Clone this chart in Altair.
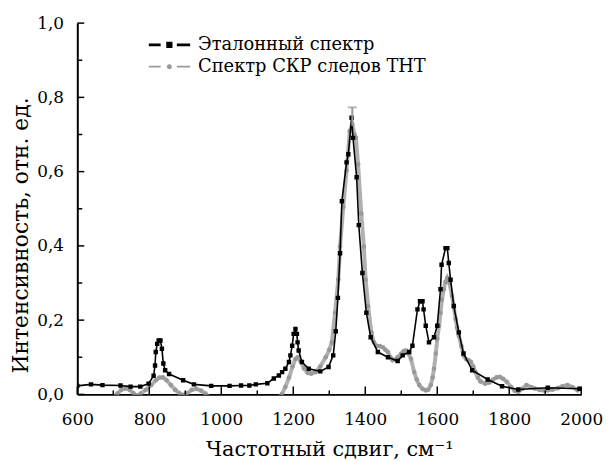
import altair as alt
import pandas as pd

# ---- data ----
ref_name = "Эталонный спектр"
tnt_name = "Спектр СКР следов ТНТ"

ref_v = [600, 638, 670, 720, 748, 775, 798, 812, 816, 818, 822, 826, 831, 835, 839, 844, 855,
         894, 924, 972, 1023, 1055, 1078, 1096, 1128, 1146, 1160, 1169, 1178, 1188, 1192, 1197,
         1201, 1206, 1210, 1212, 1215, 1224, 1243, 1275, 1298, 1311, 1318, 1324, 1330, 1335,
         1348, 1353, 1362, 1366, 1376, 1382, 1392, 1403, 1415, 1435, 1463, 1490, 1504, 1522,
         1531, 1545, 1552, 1559, 1562, 1568, 1577, 1591, 1600, 1609, 1612, 1623, 1628, 1632,
         1637, 1646, 1660, 1673, 1697, 1740, 1780, 1825, 1907, 1995]
ref_i = [0.023, 0.027, 0.025, 0.024, 0.021, 0.021, 0.029, 0.05, 0.078, 0.114, 0.136, 0.145, 0.145,
         0.123, 0.083, 0.065, 0.055,
         0.038, 0.027, 0.023, 0.023, 0.024, 0.024, 0.027, 0.03, 0.043, 0.051, 0.06, 0.069, 0.087,
         0.105, 0.131,
         0.163, 0.176, 0.163, 0.14, 0.118, 0.087, 0.069, 0.062, 0.074, 0.105, 0.17, 0.26, 0.38, 0.52,
         0.625, 0.647, 0.745, 0.691, 0.585, 0.456, 0.327, 0.22, 0.154, 0.114, 0.10, 0.09, 0.105, 0.114,
         0.131, 0.229, 0.251, 0.251, 0.229, 0.185, 0.14, 0.154, 0.185, 0.283, 0.349, 0.394, 0.394, 0.354,
         0.309, 0.238, 0.167, 0.11, 0.065, 0.04, 0.022, 0.013, 0.018, 0.015]

tnt_v = [700, 712, 722, 734, 746, 756, 766, 776, 790, 805, 818, 828, 838, 848, 860, 872, 884, 895,
         905, 918, 931, 944, 956, 970, 1000, 1050, 1100, 1150, 1168, 1178, 1188, 1198, 1206, 1212,
         1220, 1230, 1240, 1250, 1262, 1275, 1290, 1300, 1307, 1316, 1325, 1330, 1339, 1348, 1357,
         1364, 1370, 1374, 1380, 1389, 1396, 1401, 1408, 1417, 1424, 1431, 1440, 1449, 1456, 1463,
         1470, 1476, 1483, 1490, 1500, 1507, 1513, 1520, 1527, 1536, 1543, 1550, 1559, 1568, 1575,
         1582, 1587, 1591, 1596, 1600, 1605, 1609, 1613, 1618, 1623, 1628, 1634, 1641, 1646, 1651,
         1655, 1660, 1667, 1673, 1680, 1687, 1693, 1700, 1706, 1713, 1720, 1733, 1745, 1755, 1765,
         1774, 1783, 1793, 1805, 1815, 1825, 1836, 1848, 1860, 1871, 1885, 1895, 1907, 1920, 1935,
         1948, 1962, 1975, 1990]
tnt_i = [-0.01, 0.003, 0.012, 0.016, 0.012, 0.003, -0.004, 0.002, 0.012, 0.025, 0.038, 0.045, 0.046,
         0.038, 0.025, 0.012, 0.003, -0.002,
         0.003, 0.012, 0.015, 0.010, 0.002, -0.01, -0.03, -0.04, -0.04, -0.02, 0.0, 0.02, 0.045, 0.075,
         0.095, 0.10,
         0.09, 0.07, 0.058, 0.056, 0.06, 0.075, 0.10, 0.12, 0.14, 0.22, 0.309, 0.398, 0.505, 0.603, 0.709,
         0.727, 0.70, 0.691, 0.62, 0.487, 0.398, 0.309, 0.238, 0.167, 0.14, 0.131, 0.13, 0.127, 0.12, 0.114,
         0.10, 0.092, 0.094, 0.10, 0.11, 0.117, 0.118, 0.11, 0.096, 0.06, 0.04, 0.025, 0.015, 0.011, 0.013,
         0.025, 0.045, 0.069, 0.11, 0.149, 0.185, 0.22, 0.255, 0.283, 0.303, 0.314, 0.30, 0.265, 0.235, 0.203,
         0.18, 0.158, 0.13, 0.105, 0.095, 0.092, 0.088, 0.075, 0.06, 0.045, 0.035, 0.029, 0.032, 0.04, 0.046,
         0.047, 0.042, 0.034, 0.02, 0.01, 0.007, 0.015, 0.025, 0.02, 0.016, 0.012, 0.011, 0.011, 0.013, 0.017,
         0.022, 0.025, 0.02, 0.011]

err_v = [1364]
err_lo = [0.723]
err_hi = [0.773]

x_major = [600, 800, 1000, 1200, 1400, 1600, 1800, 2000]
x_minor = [700, 900, 1100, 1300, 1500, 1700, 1900]
y_major = [0.0, 0.2, 0.4, 0.6, 0.8, 1.0]
y_minor = [0.1, 0.3, 0.5, 0.7, 0.9]

assert len(ref_v) == len(ref_i)
assert len(tnt_v) == len(tnt_i)

df = pd.concat([
    pd.DataFrame({"v": ref_v, "I": ref_i, "series": ref_name}),
    pd.DataFrame({"v": tnt_v, "I": tnt_i, "series": tnt_name}),
])
df_ref = df[df.series == ref_name]
df_tnt = df[df.series == tnt_name]
df_err = pd.DataFrame({"v": err_v, "lo": err_lo, "hi": err_hi})

FONT = "DejaVu Serif"
W, H = 509, 375
BLACK = "#000000"
GREY_LINE = "#b0b0b0"
GREY_PT = "#999999"

xs = alt.Scale(domain=[600, 2000], nice=False, zero=False)
ys = alt.Scale(domain=[0, 1], nice=False)

x_enc = alt.X("v:Q", scale=xs,
              axis=alt.Axis(values=x_major, format="d", ticks=False, grid=False, domainColor="black",
                            domainWidth=2, labelFont=FONT, labelFontSize=17, labelColor="black",
                            labelPadding=17, labelFlush=False,
                            title="Частотный сдвиг, см⁻¹", titleFont=FONT, titleFontSize=21,
                            titleFontWeight="normal", titleColor="black", titlePadding=12))
y_enc = alt.Y("I:Q", scale=ys,
              axis=alt.Axis(values=y_major, ticks=False, grid=False, domainColor="black",
                            domainWidth=2, labelFont=FONT, labelFontSize=17, labelColor="black",
                            labelPadding=14, labelFlush=False,
                            labelExpr="replace(format(datum.value, '.1f'), '.', ',')",
                            title="Интенсивность, отн. ед.", titleFont=FONT, titleFontSize=22,
                            titleFontWeight="normal", titleColor="black", titlePadding=4,
                            titleY=214))

tnt_line = alt.Chart(df_tnt).mark_line(color=GREY_LINE, strokeWidth=4, clip=True).encode(
    x=x_enc, y=y_enc)
tnt_pts = alt.Chart(df_tnt).mark_circle(color=GREY_PT, size=22, opacity=1, clip=True).encode(
    x="v:Q", y="I:Q")
ref_line = alt.Chart(df_ref).mark_line(color=BLACK, strokeWidth=1.6, clip=True).encode(
    x="v:Q", y="I:Q")
ref_pts = alt.Chart(df_ref).mark_square(color=BLACK, size=20, opacity=1, clip=True).encode(
    x="v:Q", y="I:Q")

err_rule = alt.Chart(df_err).mark_rule(color=GREY_PT, strokeWidth=2).encode(
    x="v:Q", y="lo:Q", y2="hi:Q")
err_cap = alt.Chart(df_err).mark_tick(color=GREY_PT, orient="horizontal", size=9, thickness=2).encode(
    x="v:Q", y="hi:Q")

# inward tick marks
xt_major = alt.Chart(pd.DataFrame({"v": x_major})).mark_rule(color="black", strokeWidth=1.5).encode(
    x="v:Q", y=alt.value(H), y2=alt.value(H - 8))
xt_minor = alt.Chart(pd.DataFrame({"v": x_minor})).mark_rule(color="black", strokeWidth=1.5).encode(
    x="v:Q", y=alt.value(H), y2=alt.value(H - 4))
yt_major = alt.Chart(pd.DataFrame({"I": y_major})).mark_rule(color="black", strokeWidth=1.5).encode(
    y="I:Q", x=alt.value(0), x2=alt.value(7))
yt_minor = alt.Chart(pd.DataFrame({"I": y_minor})).mark_rule(color="black", strokeWidth=1.5).encode(
    y="I:Q", x=alt.value(0), x2=alt.value(5))

# legend (symbols drawn as dash-marker-dash paths)
path_ref = ("M-1,-0.07H-0.42V0.07H-1Z M-0.15,-0.15H0.15V0.15H-0.15Z M0.36,-0.07H1V0.07H0.36Z")
path_tnt = ("M-1,-0.045H-0.42V0.045H-1Z M0.12,0A0.12,0.12,0,1,1,-0.12,0A0.12,0.12,0,1,1,0.12,0Z "
            "M0.36,-0.045H1V0.045H0.36Z")
legend_layer = alt.Chart(df).mark_point(filled=True, opacity=0).encode(
    x="v:Q", y="I:Q",
    color=alt.Color("series:N",
                    scale=alt.Scale(domain=[ref_name, tnt_name], range=[BLACK, "#9a9a9a"]),
                    legend=alt.Legend(title=None, orient="none", legendX=72, legendY=11,
                                      symbolSize=1764, symbolStrokeWidth=0, symbolOpacity=1,
                                      labelFont=FONT, labelFontSize=18, labelColor="black",
                                      labelOffset=8, clipHeight=22, rowPadding=0, padding=0,
                                      labelLimit=400)),
    shape=alt.Shape("series:N",
                    scale=alt.Scale(domain=[ref_name, tnt_name], range=[path_ref, path_tnt])),
)

chart = alt.layer(
    tnt_line, tnt_pts, ref_line, ref_pts, err_rule, err_cap,
    xt_major, xt_minor, yt_major, yt_minor, legend_layer,
).properties(
    width=W, height=H,
    autosize=alt.AutoSizeParams(type="none"),
    padding={"left": 70, "top": 13, "right": 24, "bottom": 64},
).configure_view(stroke=None).configure_legend(
    symbolOpacity=1
)

chart.save("out.html", embed_options={"renderer": "svg", "actions": False})
